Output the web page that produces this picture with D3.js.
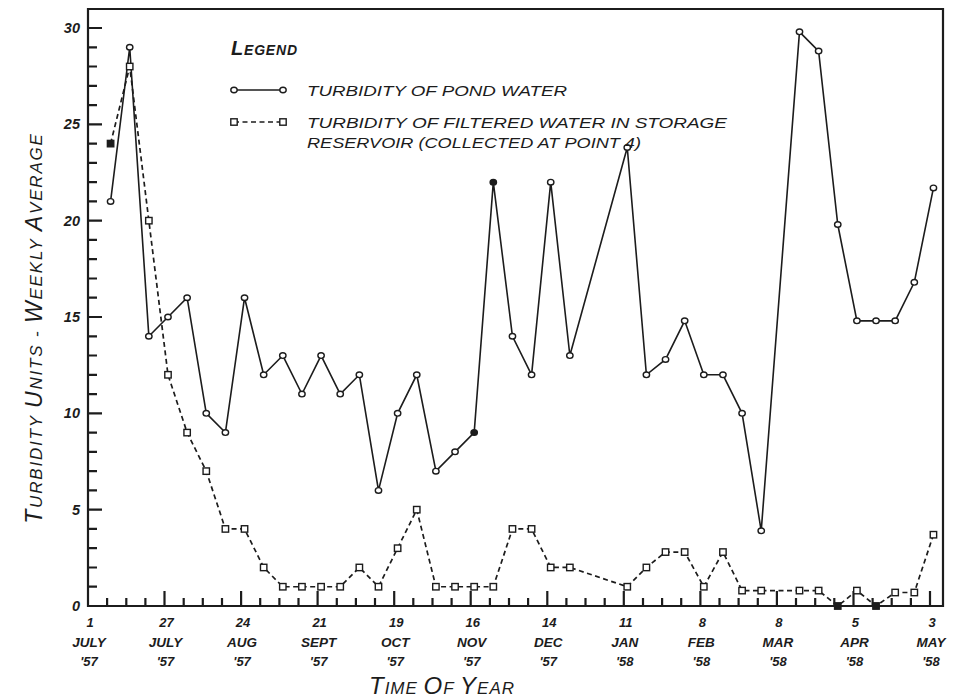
<!DOCTYPE html>
<html>
<head>
<meta charset="utf-8">
<script src="https://cdn.jsdelivr.net/npm/d3@7"></script>
<style>
  body { margin: 0; background: #fff; }
  svg text { font-family: "Liberation Sans", "DejaVu Sans", sans-serif; font-style: italic; fill: #1c1c1c; }
</style>
</head>
<body>
<svg id="chart" width="957" height="699"></svg>
<script>
// Week number counted from 1 July 1957 (weeks 26, 27 and 36 have no samples)
const weeks = [
  1, 2, 3, 4, 5, 6, 7, 8, 9, 10, 11, 12, 13, 14, 15, 16, 17, 18, 19, 20, 21, 22, 23, 24, 25,
  28, 29, 30, 31, 32, 33, 34, 35,
  37, 38, 39, 40, 41, 42, 43, 44
];

// Turbidity of pond water, weekly average (turbidity units)
const pondWater = [
  21, 29, 14, 15, 16, 10, 9, 16, 12, 13, 11, 13, 11, 12, 6, 10, 12, 7, 8, 9, 22, 14, 12, 22, 13,
  23.8, 12, 12.8, 14.8, 12, 12, 10, 3.9,
  29.8, 28.8, 19.8, 14.8, 14.8, 14.8, 16.8, 21.7
];

// Turbidity of filtered water in the storage reservoir (collected at point 4)
const filteredWater = [
  24, 28, 20, 12, 9, 7, 4, 4, 2, 1, 1, 1, 1, 2, 1, 3, 5, 1, 1, 1, 1, 4, 4, 2, 2,
  1, 2, 2.8, 2.8, 1, 2.8, 0.8, 0.8,
  0.8, 0.8, 0, 0.8, 0, 0.7, 0.7, 3.7
];

// Weeks whose plotted symbol is inked solid
const solidPondWeeks = [20, 21];
const solidFilteredWeeks = [1, 39, 41];

// Four-weekly date labels along the time axis
const labelWeeks = [0, 4, 8, 12, 16, 20, 24, 28, 32, 36, 40, 44];
const labelDays = ["1", "27", "24", "21", "19", "16", "14", "11", "8", "8", "5", "3"];
const labelMonths = ["JULY", "JULY", "AUG", "SEPT", "OCT", "NOV", "DEC", "JAN", "FEB", "MAR", "APR", "MAY"];
const labelYears = ["'57", "'57", "'57", "'57", "'57", "'57", "'57", "'58", "'58", "'58", "'58", "'58"];

const yLabelValues = [0, 5, 10, 15, 20, 25, 30];

const legendTitle = [["L", 20], ["EGEND", 14]];
const legendPond = ["TURBIDITY OF POND WATER"];
const legendFiltered = ["TURBIDITY OF FILTERED WATER IN STORAGE", "RESERVOIR (COLLECTED AT POINT 4)"];
const xTitle = [["T", 24], ["IME ", 17], ["O", 24], ["F ", 17], ["Y", 24], ["EAR", 17]];
const yTitle = [["T", 23], ["URBIDITY  ", 17], ["U", 23], ["NITS", 17], ["  -  ", 17], ["W", 23], ["EEKLY  ", 17], ["A", 23], ["VERAGE", 17]];

// Samples are taken just after the start of each week
const SAMPLE_LAG = 0.18;

const ink = "#1c1c1c";
const svg = d3.select("#chart");

const frame = { left: 88, right: 943, top: 9, bottom: 606 };
const x = d3.scaleLinear().domain([0, 44]).range([88, 930]);
const y = d3.scaleLinear().domain([0, 30]).range([606, 28]);

const pondData = weeks.map((w, i) => ({ week: w, value: pondWater[i] }));
const filteredData = weeks.map((w, i) => ({ week: w, value: filteredWater[i] }));

// Frame with its tick marks (weekly / four-weekly along the base, unit / five-unit up the side)
let framePath = `M${frame.left},${frame.top}H${frame.right}V${frame.bottom}H${frame.left}Z`;
for (let w = 0; w <= 44; w++) {
  const len = w % 4 === 0 ? 15 : 8;
  framePath += `M${x(w).toFixed(1)},${frame.bottom}v${-len}`;
}
for (let v = 0; v <= 30; v++) {
  const len = v % 5 === 0 ? 14 : 9;
  framePath += `M${frame.left},${y(v).toFixed(1)}h${len}`;
}
svg.append("path").attr("d", framePath)
  .attr("fill", "none").attr("stroke", ink).attr("stroke-width", 2.2);

// Value labels on the left
svg.append("g").attr("font-size", 14.5).attr("font-weight", "bold").attr("text-anchor", "end")
  .selectAll("text").data(yLabelValues).join("text")
  .attr("x", 80).attr("y", d => y(d)).attr("dy", "0.35em")
  .text(d3.format("d"));

// Date labels, three lines per major tick
const dateLabels = svg.append("g").attr("font-size", 13).attr("font-weight", "bold").attr("text-anchor", "middle");
labelWeeks.forEach((w, i) => {
  const t = dateLabels.append("text").attr("x", x(w) + 2).attr("y", 627);
  t.append("tspan").attr("x", x(w) + 2).attr("dy", 0).text(labelDays[i]);
  t.append("tspan").attr("x", x(w) + 1).attr("dy", 19.5).attr("font-size", 13.5).text(labelMonths[i]);
  t.append("tspan").attr("x", x(w) + 1).attr("dy", 19.5).text(labelYears[i]);
});

// Series lines
const line = d3.line().x(d => x(d.week + SAMPLE_LAG)).y(d => y(d.value));

svg.append("path").datum(filteredData)
  .attr("d", line).attr("fill", "none").attr("stroke", ink)
  .attr("stroke-width", 1.7).attr("stroke-dasharray", "5,3.5");

svg.append("path").datum(pondData)
  .attr("d", line).attr("fill", "none").attr("stroke", ink)
  .attr("stroke-width", 1.6);

// Series markers
svg.append("g").selectAll("rect").data(filteredData).join("rect")
  .attr("x", d => x(d.week + SAMPLE_LAG) - 3.2)
  .attr("y", d => y(d.value) - 3.2)
  .attr("width", 6.4).attr("height", 6.4)
  .attr("fill", d => solidFilteredWeeks.includes(d.week) ? ink : "#fff")
  .attr("stroke", ink).attr("stroke-width", 1.4);

svg.append("g").selectAll("ellipse").data(pondData).join("ellipse")
  .attr("cx", d => x(d.week + SAMPLE_LAG))
  .attr("cy", d => y(d.value))
  .attr("rx", 3.2).attr("ry", 2.8)
  .attr("fill", d => solidPondWeeks.includes(d.week) ? ink : "#fff")
  .attr("stroke", ink).attr("stroke-width", 1.4);

// Legend
const legend = svg.append("g");
const lt = legend.append("text").attr("x", 231).attr("y", 55).attr("font-weight", "bold").attr("letter-spacing", 0.8);
legendTitle.forEach(([s, f]) => lt.append("tspan").attr("font-size", f).text(s));

legend.append("path").attr("d", "M234,90H283")
  .attr("fill", "none").attr("stroke", ink).attr("stroke-width", 1.6);
[234, 283].forEach(cx => legend.append("ellipse").attr("cx", cx).attr("cy", 90)
  .attr("rx", 3.2).attr("ry", 2.8).attr("fill", "#fff").attr("stroke", ink).attr("stroke-width", 1.4));

legend.append("path").attr("d", "M234,122H283")
  .attr("fill", "none").attr("stroke", ink).attr("stroke-width", 1.7).attr("stroke-dasharray", "5,3.5");
[234, 283].forEach(cx => legend.append("rect").attr("x", cx - 3.2).attr("y", 118.8)
  .attr("width", 6.4).attr("height", 6.4).attr("fill", "#fff").attr("stroke", ink).attr("stroke-width", 1.4));

const legendText = legend.append("g").attr("font-size", 15);
legendText.append("text").attr("x", 307).attr("y", 96)
  .attr("textLength", 260).attr("lengthAdjust", "spacingAndGlyphs").text(legendPond[0]);
legendText.append("text").attr("x", 307).attr("y", 128)
  .attr("textLength", 420).attr("lengthAdjust", "spacingAndGlyphs").text(legendFiltered[0]);
legendText.append("text").attr("x", 307).attr("y", 148)
  .attr("textLength", 334).attr("lengthAdjust", "spacingAndGlyphs").text(legendFiltered[1]);

// Axis titles
const xt = svg.append("text").attr("x", 442).attr("y", 694).attr("text-anchor", "middle").attr("letter-spacing", 1);
xTitle.forEach(([s, f]) => xt.append("tspan").attr("font-size", f).text(s));

const yt = svg.append("text")
  .attr("transform", "translate(42,328) rotate(-90)")
  .attr("text-anchor", "middle").attr("letter-spacing", 1.8);
yTitle.forEach(([s, f]) => yt.append("tspan").attr("font-size", f).text(s));
</script>
</body>
</html>
